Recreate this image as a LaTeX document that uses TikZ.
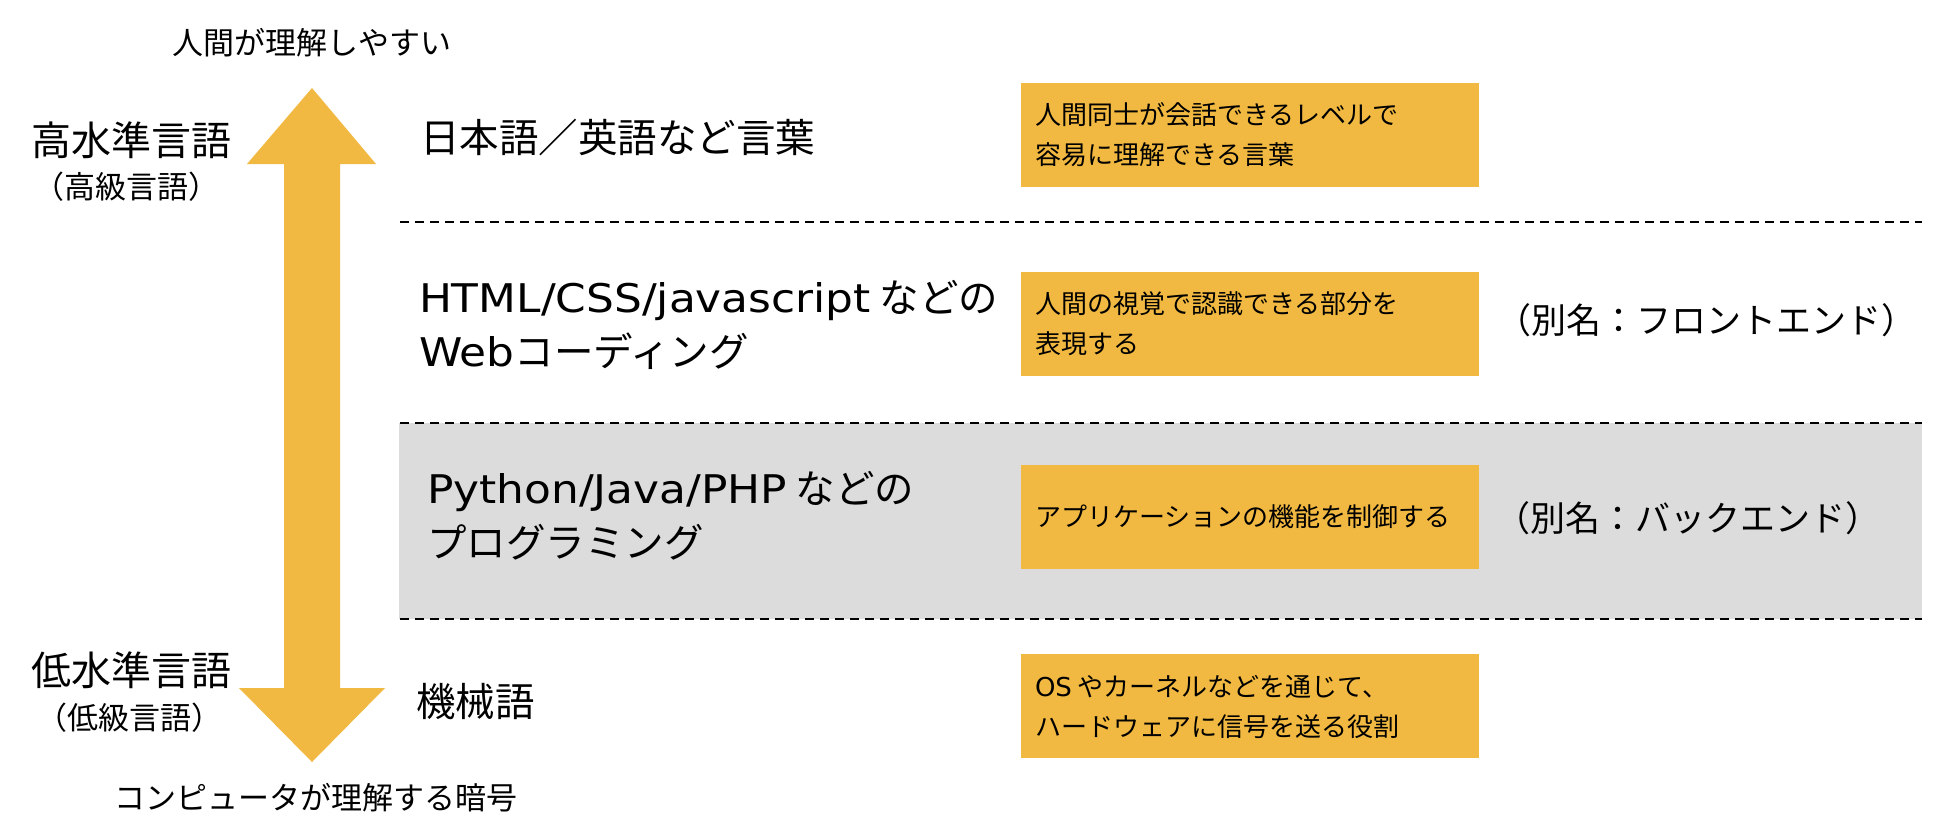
\documentclass[tikz,border=0pt]{standalone}
\usepackage{fontspec}
\setmainfont{Noto Sans CJK JP}
\newfontfamily\latinwide[FakeStretch=1.11]{DejaVu Sans}
\newfontfamily\latinplain{DejaVu Sans}
\definecolor{boxyellow}{HTML}{F1B941}
\definecolor{bandgray}{HTML}{DCDCDC}
\begin{document}
\begin{tikzpicture}[x=1pt,y=-1pt,
  every node/.style={inner sep=0pt, outer sep=0pt, text=black},
  infobox/.style={fill=boxyellow, minimum width=458pt, minimum height=104pt, anchor=north west},
  boxtext/.style={anchor=west, align=left, font=\fontsize{26}{40}\selectfont},
  leveltext/.style={anchor=west, align=left, font=\fontsize{39.5}{54}\selectfont},
  sidebig/.style={font=\fontsize{40}{48}\selectfont},
  sidesmall/.style={font=\fontsize{31}{38}\selectfont},
  endtext/.style={font=\fontsize{31}{38}\selectfont},
  aliastext/.style={font=\fontsize{35}{40}\selectfont},
  sepline/.style={draw=black, line width=2pt, dash pattern=on 9pt off 6pt},
]
\useasboundingbox (0,0) rectangle (1960,836);
\fill[white] (0,0) rectangle (1960,836);

% gray band
\fill[bandgray] (399,423) rectangle (1922,619);

% separators
\coordinate (s1a) at (400,222); \coordinate (s1b) at (1922,222);
\coordinate (s2a) at (400,423); \coordinate (s2b) at (1922,423);
\coordinate (s3a) at (400,619); \coordinate (s3b) at (1922,619);
\draw[sepline] (s1a) -- (s1b);
\draw[sepline] (s2a) -- (s2b);
\draw[sepline] (s3a) -- (s3b);

% double arrow
\fill[boxyellow] (312,88) -- (376,164) -- (340,164) -- (340,688) -- (385,688)
  -- (312,762) -- (239,688) -- (284,688) -- (284,164) -- (247,164) -- cycle;

% end labels
\node[endtext] (top) at (312,43) {人間が理解しやすい};
\node[endtext] (bottom) at (316,798) {コンピュータが理解する暗号};

% side labels
\node[sidebig] (high) at (131,140) {高水準言語};
\node[sidesmall] (highsub) at (127,187) {（高級言語）};
\node[sidebig] (low) at (131,670) {低水準言語};
\node[sidesmall] (lowsub) at (129,718) {（低級言語）};

% level labels
\node[leveltext] (l1) at (420,137) {日本語／英語など言葉};
\node[leveltext] (l2) at (419,325) {{\latinwide HTML/CSS/javascript} などの\\{\latinwide Web}コーディング};
\node[leveltext] (l3) at (427,516) {{\latinwide Python/Java/PHP} などの\\プログラミング};
\node[leveltext] (l4) at (416,702) {機械語};

% yellow boxes
\node[infobox] (b1) at (1021,83) {};
\node[infobox] (b2) at (1021,272) {};
\node[infobox] (b3) at (1021,465) {};
\node[infobox] (b4) at (1021,654) {};
\node[boxtext] (t1) at (1035,135) {人間同士が会話できるレベルで\\容易に理解できる言葉};
\node[boxtext] (t2) at (1035,324) {人間の視覚で認識できる部分を\\表現する};
\node[boxtext] (t3) at (1035,517) {アプリケーションの機能を制御する};
\node[boxtext] (t4) at (1035,707) {{\latinplain OS} やカーネルなどを通じて、\\ハードウェアに信号を送る役割};

% aliases
\node[aliastext] (a2) at (1706,320) {（別名：フロントエンド）};
\node[aliastext] (a3) at (1688,518) {（別名：バックエンド）};
\end{tikzpicture}
\end{document}
